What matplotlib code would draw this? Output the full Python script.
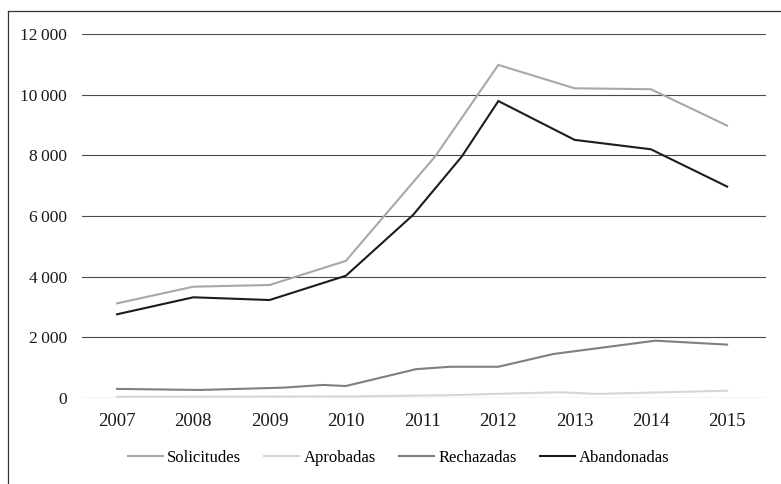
import numpy as np
import matplotlib
matplotlib.use("Agg")
from matplotlib import pyplot as plt
from matplotlib.lines import Line2D
from matplotlib.ticker import FuncFormatter

plt.rcParams['font.family'] = ['Liberation Serif', 'DejaVu Serif']

years = [2007, 2008, 2009, 2010, 2011, 2012, 2013, 2014, 2015]

# vertices (year, count)
sol_x = [2007, 2008, 2009, 2010, 2011.17, 2012, 2013, 2014, 2015]
sol_y = [3120, 3670, 3725, 4520, 7960, 10980, 10210, 10180, 8980]

apr_x = [2007, 2010, 2011.3, 2012.8, 2013.3, 2015]
apr_y = [40, 50, 90, 190, 135, 240]

rec_x = [2007, 2008.08, 2009.17, 2009.7, 2010, 2010.92, 2011.37, 2012, 2012.72, 2014.06, 2015]
rec_y = [300, 265, 340, 430, 395, 950, 1030, 1030, 1450, 1890, 1760]

aba_x = [2007, 2008, 2009, 2010, 2010.88, 2011.52, 2012, 2013, 2014, 2015]
aba_y = [2760, 3320, 3230, 4030, 6030, 7960, 9790, 8510, 8200, 6970]

series = [
    ('Solicitudes', sol_x, sol_y, '#a8a8a8'),
    ('Aprobadas', apr_x, apr_y, '#d6d6d6'),
    ('Rechazadas', rec_x, rec_y, '#7f7f7f'),
    ('Abandonadas', aba_x, aba_y, '#1c1c1c'),
]

fig = plt.figure(figsize=(7.81, 4.84), dpi=100)
ax = fig.add_axes([82 / 781, 1 - 398 / 484, (766 - 82) / 781, (398 - 34) / 484])

for name, xs, ys, col in series:
    ax.plot(xs, ys, color=col, lw=1.5, label=name, solid_joinstyle='miter')

ax.set_xlim(years[0] - 0.46, years[-1] + 0.51)
ax.set_ylim(0, 12000)
ax.set_xticks(years)
ax.set_yticks(np.arange(0, 12001, 2000))
ax.yaxis.set_major_formatter(FuncFormatter(
    lambda v, p: ('%d' % v) if v < 1000 else '%d\u2009%03d' % (v // 1000, v % 1000)))
ax.grid(axis='y', color='#4a4a4a', lw=0.8)
ax.set_axisbelow(True)
for s in ax.spines.values():
    s.set_visible(False)
ax.tick_params(axis='both', length=0, labelsize=12.5, colors='#1a1a1a')
ax.tick_params(axis='x', labelsize=13.5, pad=11)
ax.tick_params(axis='y', pad=11)

ax.legend(loc='center', bbox_to_anchor=(0.463, 1 - (458 - 34) / (398 - 34)),
          ncol=4, frameon=False, fontsize=12, handlelength=2.1,
          handletextpad=0.25, columnspacing=1.4)

# outer frame (left and top edges visible)
fig.add_artist(Line2D([8 / 781, 8 / 781], [0, 1 - 11 / 484], color='#333333', lw=0.9))
fig.add_artist(Line2D([8 / 781, 1], [1 - 11 / 484, 1 - 11 / 484], color='#333333', lw=0.9))

fig.savefig('out.png', dpi=100)
